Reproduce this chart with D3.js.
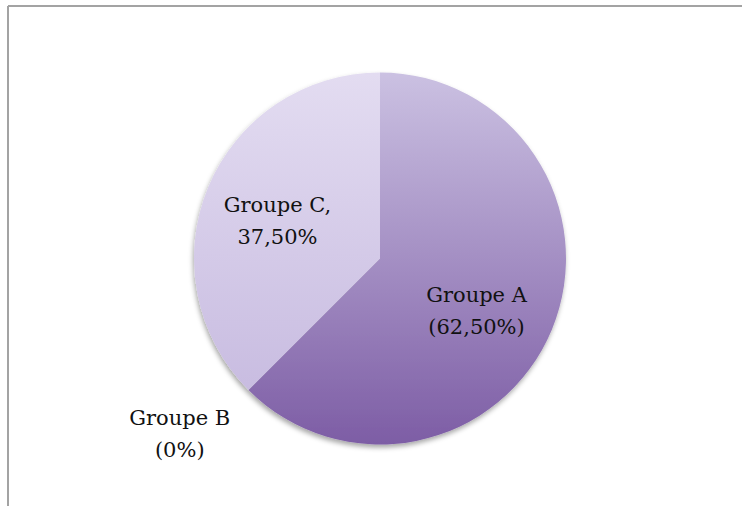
<!DOCTYPE html>
<html lang="fr">
<head>
    <meta charset="UTF-8">
    <script src="https://d3js.org/d3.v7.min.js"></script>
    <title>Groupes</title>
    <style>
        body { margin: 0; background: #fff; }
        .label { font-family: "DejaVu Serif", serif; font-size: 21px; fill: #111; }
    </style>
</head>
<body>
    <div class="chart"></div>
    <script>
        const groups = ["Groupe A", "Groupe B", "Groupe C"];
        const shares = [62.5, 0, 37.5];
        const labelLines = [["Groupe A", "(62,50%)"], ["Groupe B", "(0%)"], ["Groupe C,", "37,50%"]];

        const width = 742, height = 506;
        const cx = 380, cy = 258.5, radius = 186;

        const svg = d3.select(".chart").append("svg")
            .attr("width", width)
            .attr("height", height);

        // frame (only top and left edges are visible in the crop)
        svg.append("line").attr("x1", 8).attr("y1", 6).attr("x2", width).attr("y2", 6)
            .attr("stroke", "#a3a3a3").attr("stroke-width", 2);
        svg.append("line").attr("x1", 8).attr("y1", 6).attr("x2", 8).attr("y2", height)
            .attr("stroke", "#a3a3a3").attr("stroke-width", 2);

        const defs = svg.append("defs");
        // gradients are in the translated space of the pie group
        const gradA = defs.append("linearGradient").attr("id", "gA")
            .attr("gradientUnits", "userSpaceOnUse")
            .attr("x1", 0).attr("y1", -radius).attr("x2", 0).attr("y2", radius);
        gradA.append("stop").attr("offset", "0%").attr("stop-color", "#cbc1e2");
        gradA.append("stop").attr("offset", "100%").attr("stop-color", "#7d5da5");
        const gradC = defs.append("linearGradient").attr("id", "gC")
            .attr("gradientUnits", "userSpaceOnUse")
            .attr("x1", 0).attr("y1", -radius).attr("x2", 0).attr("y2", radius);
        gradC.append("stop").attr("offset", "0%").attr("stop-color", "#e3dcf1");
        gradC.append("stop").attr("offset", "100%").attr("stop-color", "#c4b7de");

        const shadow = defs.append("filter").attr("id", "sh")
            .attr("x", "-10%").attr("y", "-10%").attr("width", "120%").attr("height", "120%");
        shadow.append("feDropShadow").attr("dx", -1).attr("dy", 3).attr("stdDeviation", 2.5)
            .attr("flood-color", "#000").attr("flood-opacity", 0.35);

        const fills = ["url(#gA)", "#a48fc8", "url(#gC)"];

        const pie = d3.pie().sort(null).value(d => d);
        const arcs = pie(shares);
        const arc = d3.arc().innerRadius(0).outerRadius(radius);

        const g = svg.append("g").attr("transform", `translate(${cx},${cy})`);
        g.append("g").attr("filter", "url(#sh)")
            .selectAll("path")
            .data(arcs)
            .enter()
            .append("path")
            .attr("d", arc)
            .attr("fill", (d, i) => fills[i]);

        // label placement: radius factor along mid-angle plus a nudge
        const labelRadius = [0.62, 1.5, 0.62];
        const nudge = [[-10, 7], [-3, -23], [4, 6]];
        arcs.forEach((d, i) => {
            const a = (d.startAngle + d.endAngle) / 2;
            const r = radius * labelRadius[i];
            const x = Math.sin(a) * r + nudge[i][0];
            const y = -Math.cos(a) * r + nudge[i][1];
            const t = g.append("text").attr("class", "label")
                .attr("text-anchor", "middle")
                .attr("x", x).attr("y", y - 8);
            labelLines[i].forEach((line, k) => {
                t.append("tspan").attr("x", x).attr("dy", k === 0 ? 0 : 32).text(line);
            });
        });
    </script>
</body>
</html>
